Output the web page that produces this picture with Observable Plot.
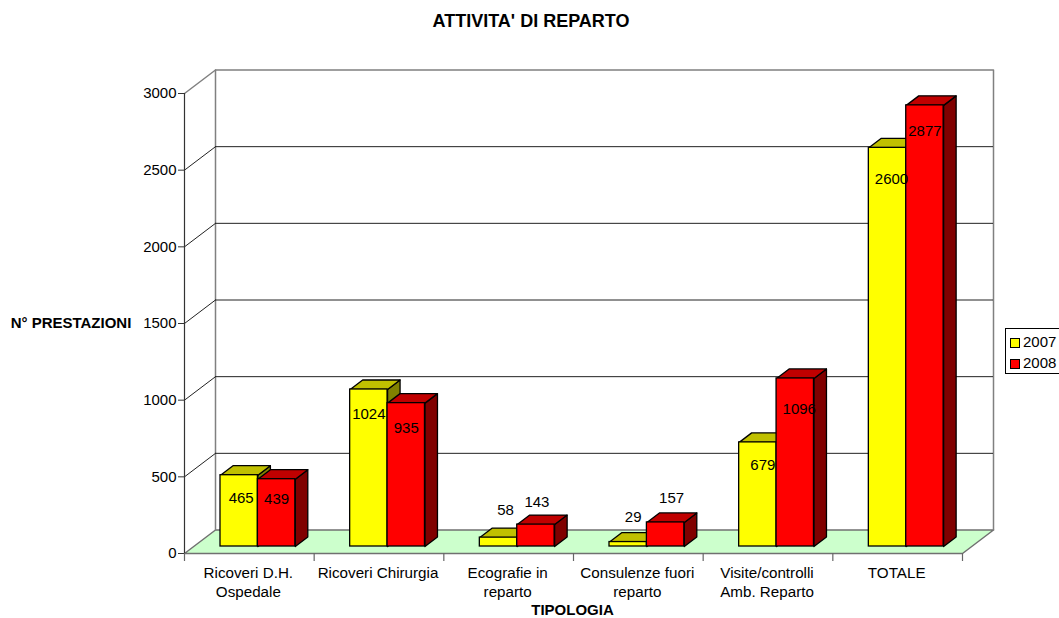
<!DOCTYPE html>
<html>
<head>
<meta charset="utf-8">
<script src="https://cdn.jsdelivr.net/npm/d3@7"></script>
<script src="https://cdn.jsdelivr.net/npm/@observablehq/plot@0.6"></script>
<style>
  html, body { margin: 0; padding: 0; background: #fff; }
  #wrap { position: relative; width: 1059px; height: 618px; overflow: hidden; font-family: "Liberation Sans", Arial, sans-serif; }
  #legend { position: absolute; left: 1005px; top: 328px; width: 54px; height: 46px; box-sizing: border-box; border: 1px solid #000; border-right: none; background: #fff; font-size: 15px; color: #000; }
  #legend div { position: absolute; left: 4px; height: 16px; line-height: 16px; white-space: nowrap; }
  #legend i { display: inline-block; width: 8px; height: 8px; border: 1px solid #000; margin-right: 3px; vertical-align: -0.5px; }
</style>
</head>
<body>
<div id="wrap">
  <div id="legend"></div>
</div>
<script>
const categories = ["Ricoveri D.H.\nOspedale", "Ricoveri Chirurgia", "Ecografie in\nreparto", "Consulenze fuori\nreparto", "Visite/controlli\nAmb. Reparto", "TOTALE"];
const series = ["2007", "2008"];
const values2007 = [465, 1024, 58, 29, 679, 2600];
const values2008 = [439, 935, 143, 157, 1096, 2877];
const yTicks = [0, 500, 1000, 1500, 2000, 2500, 3000];

// Layout: label nudges in pixels, separate from the data
const labelDx2007 = [2, 0, 7, 5, 5, 4];
const labelDx2008 = [0, 0, 1, 6, 4, 0];
const labelDy2007 = [23, 25, -27, -25, 23, 31];
const labelDy2008 = [20, 25, -22, -24, 31, 26];

// Palette: front, top, side
const faces = {
  "2007": {front: "#FFFF00", top: "#C0C000", side: "#808000"},
  "2008": {front: "#FF0000", top: "#C00000", side: "#800000"}
};

// Plot frame
const W = 1059, H = 618, L = 184, R = 962, T = 93, B = 553;
const pxX = (R - L) / 6;            // pixels per category
const pxY = (B - T) / 3000;         // pixels per value unit
const ux = (p) => p / pxX, uy = (p) => p / pxY;

const wallX = ux(31), wallY = uy(23.5);     // depth of the whole box
const barX0 = ux(36), barW = ux(37.4);      // bar inset and width
const barBase = uy(7);                      // bars stand a little inside the floor
const barDX = ux(12.5), barDY = uy(9.5);    // depth of a bar

const bars = [];
series.forEach((s, si) => {
  const vals = si === 0 ? values2007 : values2008;
  vals.forEach((v, i) => {
    const x1 = i + barX0 + si * barW;
    bars.push({s, i, v, x1, x2: x1 + barW, y1: barBase, y2: barBase + v, si});
  });
});

const polys = [];
function poly(id, fill, pts) {
  pts.concat([pts[0]]).forEach(([x, y]) => polys.push({id, fill, x, y}));
}
bars.forEach((b) => {
  const f = faces[b.s];
  poly(`side-${b.s}-${b.i}`, f.side, [[b.x2, b.y1], [b.x2 + barDX, b.y1 + barDY], [b.x2 + barDX, b.y2 + barDY], [b.x2, b.y2]]);
  poly(`top-${b.s}-${b.i}`, f.top, [[b.x1, b.y2], [b.x2, b.y2], [b.x2 + barDX, b.y2 + barDY], [b.x1 + barDX, b.y2 + barDY]]);
});

const floor = [[0, 0], [6, 0], [6 + wallX, wallY], [wallX, wallY], [0, 0]].map(([x, y]) => ({x, y}));
const wall = [[wallX, wallY], [wallX, 3000 + wallY], [6 + wallX, 3000 + wallY], [6 + wallX, wallY]].map(([x, y]) => ({x, y}));
const gridTicks = yTicks.slice(1, -1);
const gridBack = gridTicks.map((t) => ({t, y: t + wallY}));
const sideLines = yTicks.slice(1).flatMap((t) => [{t, x: 0, y: t}, {t, x: wallX, y: t + wallY}]);
const topEdge = sideLines.filter((d) => d.t === 3000);
const gridEdges = sideLines.filter((d) => d.t !== 3000);

const labels = bars.map((b) => {
  const dx = (b.si === 0 ? labelDx2007 : labelDx2008)[b.i];
  const dy = (b.si === 0 ? labelDy2007 : labelDy2008)[b.i];
  return {text: String(b.v), x: (b.x1 + b.x2) / 2 + ux(dx), y: b.y2 - uy(dy)};
});

const chart = Plot.plot({
  width: W, height: H,
  marginLeft: L, marginRight: W - R, marginTop: T, marginBottom: H - B,
  style: {fontFamily: "'Liberation Sans', Arial, sans-serif", fontSize: "15px", color: "#000", background: "#fff", overflow: "visible"},
  x: {type: "linear", domain: [0, 6], range: [L, R]},
  y: {type: "linear", domain: [0, 3000], range: [B, T]},
  color: {type: "identity"},
  marks: [
    Plot.line(floor, {x: "x", y: "y", fill: "#CCFFCC", stroke: "#707070", strokeWidth: 1.5}),
    Plot.line(wall, {x: "x", y: "y", stroke: "#808080", strokeWidth: 1.5}),
    Plot.ruleY(gridBack, {y: "y", x1: wallX, x2: 6 + wallX, stroke: "#222", strokeWidth: 1}),
    Plot.line(gridEdges, {x: "x", y: "y", z: "t", stroke: "#222", strokeWidth: 1}),
    Plot.line(topEdge, {x: "x", y: "y", z: "t", stroke: "#808080", strokeWidth: 1.5}),
    Plot.ruleX([0], {y1: 0, y2: 3000, stroke: "#333", strokeWidth: 1.2}),
    Plot.axisY({ticks: yTicks, tickSize: 6, tickPadding: 2, tickFormat: (d) => String(d), label: null, stroke: "#333", fill: "#000", fontSize: 15}),
    Plot.axisX({ticks: [0, 1, 2, 3, 4, 5, 6], tickSize: 8, tickFormat: () => "", label: null, stroke: "#666", strokeWidth: 1.2}),
    Plot.text(categories, {x: (d, i) => i + 0.5 - ux(1), y: () => 0, text: (d) => d, dy: 11, lineAnchor: "top", lineHeight: 1.24, fontSize: 15.2, fill: "#000"}),
    Plot.line(polys, {x: "x", y: "y", z: "id", fill: "fill", stroke: "#000", strokeWidth: 1.3, strokeLinejoin: "round"}),
    Plot.rect(bars, {x1: "x1", x2: "x2", y1: "y1", y2: "y2", fill: (d) => faces[d.s].front, stroke: "#000", strokeWidth: 1.3}),
    Plot.text(labels, {x: "x", y: "y", text: "text", fontSize: 15, fill: "#000"}),
    Plot.text(["ATTIVITA' DI REPARTO"], {x: () => ux(530.5 - L), y: () => uy(B - 21), fontWeight: "bold", fontSize: 18, fill: "#000"}),
    Plot.text(["TIPOLOGIA"], {x: () => ux(572 - L), y: () => -uy(609.5 - B), fontWeight: "bold", fontSize: 15, fill: "#000"}),
    Plot.text(["N° PRESTAZIONI"], {x: () => ux(70.5 - L), y: () => uy(B - 322.5), fontWeight: "bold", fontSize: 15, fill: "#000"})
  ]
});
document.getElementById("wrap").prepend(chart);

const legend = document.getElementById("legend");
series.forEach((s, i) => {
  const row = document.createElement("div");
  row.style.top = (5 + i * 21) + "px";
  const sw = document.createElement("i");
  sw.style.background = faces[s].front;
  row.appendChild(sw);
  row.appendChild(document.createTextNode(s));
  legend.appendChild(row);
});
</script>
</body>
</html>
